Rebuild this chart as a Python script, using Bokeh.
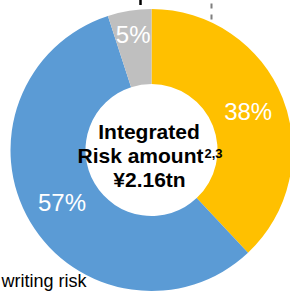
import math
from bokeh.plotting import figure
from bokeh.models import Range1d, ColumnDataSource
from bokeh.core.properties import value
from bokeh.embed import file_html
from bokeh.resources import INLINE

# data
categories = ["Category A", "Underwriting risk", "Other"]
shares = [38, 57, 5]
colors = ["#FFC000", "#5B9BD5", "#BFBFBF"]
pct_labels = ["38%", "57%", "5%"]
center_lines = ["Integrated", "Risk amount", "\u00a52.16tn"]
superscript = "2,3"
side_label = "writing risk"

W, H = 290, 295
OFF = 8
CX, CY = 151, H - 149.5
R_OUT, R_IN = 141, 66
LABEL_R = [104, 104, 117]

p = figure(width=W + OFF, height=H + OFF, output_backend="svg", toolbar_location=None,
           x_range=Range1d(-OFF, W), y_range=Range1d(0, H + OFF), min_border=0)
p.axis.visible = False
p.grid.visible = False
p.outline_line_color = None
p.background_fill_color = "white"
p.border_fill_color = "white"
p.margin = (-8, 0, 0, -8)

total = sum(shares)
starts, ends, lx, ly = [], [], [], []
a = math.pi / 2
for i, s in enumerate(shares):
    span = 2 * math.pi * s / total
    starts.append(a)
    ends.append(a - span)
    mid = a - span / 2
    lx.append(CX + LABEL_R[i] * math.cos(mid))
    ly.append(CY + LABEL_R[i] * math.sin(mid))
    a -= span

src = ColumnDataSource(dict(start=starts, end=ends, color=colors, lx=lx, ly=ly, lab=pct_labels))
p.annular_wedge(x=CX, y=CY, inner_radius=R_IN, outer_radius=R_OUT,
                start_angle="start", end_angle="end", direction="clock",
                fill_color="color", line_color=None, source=src)

p.text(x="lx", y="ly", text="lab", source=src, text_color="white",
       text_font=value("Liberation Sans"), text_font_size="24px",
       text_align="center", text_baseline="middle")

# center text
p.text(x=[148.5], y=[H - 130.5], text=[center_lines[0]], text_font=value("Liberation Sans"),
       text_font_style="bold", text_font_size="21px", text_align="center",
       text_baseline="middle", text_color="black")
p.text(x=[77], y=[H - 154.8], text=[center_lines[1]], text_font=value("Liberation Sans"),
       text_font_style="bold", text_font_size="21px", text_align="left",
       text_baseline="middle", text_color="black")
p.text(x=[204], y=[H - 153.3], text=[superscript], text_font=value("Liberation Sans"),
       text_font_style="bold", text_font_size="13px", text_align="left",
       text_baseline="middle", text_color="black")
p.text(x=[149], y=[H - 179.2], text=[center_lines[2]], text_font=value("Liberation Sans"),
       text_font_style="bold", text_font_size="21px", text_align="center",
       text_baseline="middle", text_color="black")

# bottom-left label
p.text(x=[86], y=[H - 280.5], text=[side_label], text_font=value("Liberation Sans"),
       text_font_size="18px", text_align="right", text_baseline="middle",
       text_color="black")

# top marks
p.segment(x0=[140], y0=[H + OFF], x1=[140], y1=[H - 4.5], line_color="black", line_width=2.5)
p.segment(x0=[211], y0=[H + OFF], x1=[211], y1=[H - 21], line_color="#7F7F7F",
          line_width=2, line_dash="5 6")

open("out.html", "w").write(file_html(p, INLINE))
